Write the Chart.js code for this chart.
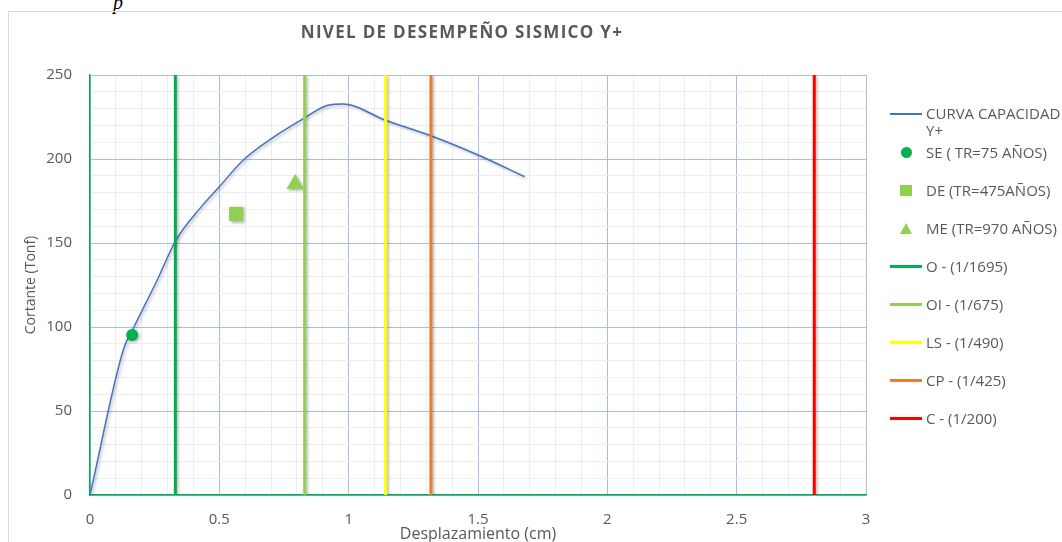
<!DOCTYPE html>
<html lang="es">
<head>
<meta charset="UTF-8">
<title>Nivel de desempeño sísmico Y+</title>
<style>
  html, body { margin: 0; padding: 0; background: #fff; }
  body { width: 1062px; height: 542px; overflow: hidden; position: relative; font-family: "Open Sans", sans-serif; }
  #frame { position: absolute; left: 8px; top: 11px; width: 1100px; height: 600px; border: 1px solid #d9d9d9; }
  #cap { position: absolute; left: 113px; top: -8px; font: italic 20px/20px "Liberation Serif", serif; color: #000; }
  #chart { position: absolute; left: 0; top: 0; }
  #legend { position: absolute; left: 890px; top: 105px; color: #595959; font-size: 15px; line-height: 17px; }
  .item { display: flex; align-items: flex-start; margin-bottom: 21px; }
  .item.first { margin-bottom: 5px; }
  .sym { width: 32px; height: 17px; position: relative; margin-right: 4px; flex: none; }
  .sym .ln { position: absolute; left: 0; right: 0; top: 7px; height: 3px; }
  .sym .dot { position: absolute; left: 11px; top: 3px; width: 11px; height: 11px; border-radius: 50%; }
  .sym .sq { position: absolute; left: 10px; top: 3px; width: 12px; height: 11px; }
  .sym .tri { position: absolute; left: 10px; top: 3px; width: 0; height: 0;
              border-left: 6px solid transparent; border-right: 6px solid transparent; border-bottom: 11px solid; }
  .txt { width: 155px; white-space: normal; }
</style>
</head>
<body>
  <div id="cap">p</div>
  <div id="frame"></div>
  <canvas id="chart" width="1062" height="542"></canvas>
  <div id="legend"></div>

  <script src="https://cdn.jsdelivr.net/npm/chart.js"></script>
  <script>
    const TITLE = 'NIVEL DE DESEMPEÑO SISMICO Y+';

    // capacity curve (displacement cm, shear Tonf)
    const curveName = 'CURVA CAPACIDAD Y+';
    const dispX = [0, 0.13, 0.17, 0.26, 0.33, 0.43, 0.50, 0.59, 0.70, 0.83, 0.92, 0.98, 1.14, 1.32, 1.50, 1.68];
    const shear = [0, 87, 100, 128, 151, 171.5, 183.5, 199, 212, 224.5, 232, 232.7, 223.2, 213.7, 202.4, 189.5];

    // performance points
    const perfNames = ['SE ( TR=75 AÑOS)', 'DE (TR=475AÑOS)', 'ME (TR=970 AÑOS)'];
    const perfX = [0.163, 0.565, 0.793];
    const perfY = [95.2, 167.3, 185.1];
    const perfShapes = ['circle', 'rect', 'triangle'];
    const perfColors = ['#00B050', '#92D050', '#92D050'];

    // drift limits (h = 560 cm)
    const limitNames = ['O - (1/1695)', 'OI - (1/675)', 'LS - (1/490)', 'CP - (1/425)', 'C - (1/200)'];
    const limitX = [0.330, 0.830, 1.143, 1.318, 2.80];
    const limitColors = ['#00B050', '#92D050', '#FFFF00', '#ED7D31', '#FF0000'];

    const xMax = 3, yMax = 250;

    const isMajor = (v, step) => Math.abs(v / step - Math.round(v / step)) < 1e-6;
    const gridMajor = '#A9BEE5', gridMinor = '#EDEDED', textColor = '#595959';

    const datasets = [{
      label: curveName,
      data: dispX.map((x, i) => ({ x: x, y: shear[i] })),
      showLine: true,
      borderColor: '#4472C4',
      borderWidth: 1.5,
      pointRadius: 0,
      cubicInterpolationMode: 'monotone',
      order: 9
    }];

    perfNames.forEach((name, i) => datasets.push({
      label: name,
      data: [{ x: perfX[i], y: perfY[i] }],
      pointStyle: perfShapes[i],
      pointRadius: [6, 10, 10][i],
      backgroundColor: perfColors[i],
      borderColor: perfColors[i],
      borderWidth: 0,
      order: 8 - i
    }));

    limitNames.forEach((name, i) => datasets.push({
      label: name,
      data: [{ x: limitX[i], y: 0 }, { x: limitX[i], y: yMax }],
      showLine: true,
      borderColor: limitColors[i],
      borderWidth: 3,
      pointRadius: 0,
      order: 5 - i
    }));

    // soft drop shadow under all series
    const shadow = {
      id: 'shadow',
      beforeDatasetsDraw(chart) {
        const ctx = chart.ctx;
        ctx.save();
        ctx.shadowColor = 'rgba(0,0,0,0.3)';
        ctx.shadowBlur = 3;
        ctx.shadowOffsetX = 1.5;
        ctx.shadowOffsetY = 1.5;
      },
      afterDatasetsDraw(chart) {
        chart.ctx.restore();
      }
    };

    const chartTitle = {
      id: 'chartTitle',
      afterDraw(chart) {
        const ctx = chart.ctx;
        ctx.save();
        ctx.font = 'bold 17px "Open Sans"';
        ctx.letterSpacing = '1.3px';
        ctx.fillStyle = textColor;
        ctx.textAlign = 'center';
        ctx.textBaseline = 'middle';
        ctx.fillText(TITLE, 462, 33);
        ctx.restore();
      }
    };

    const chart = new Chart(document.getElementById('chart'), {
      type: 'scatter',
      data: { datasets: datasets },
      plugins: [shadow, chartTitle],
      options: {
        responsive: false,
        animation: false,
        layout: { padding: { left: 0, right: 196, top: 75, bottom: 0 } },
        plugins: { legend: { display: false }, tooltip: { enabled: false } },
        scales: {
          x: {
            type: 'linear', min: 0, max: xMax,
            afterFit(s) { s.height = 47; },
            ticks: {
              stepSize: 0.1, autoSkip: false, maxRotation: 0, padding: 16,
              color: textColor, font: { family: 'Open Sans', size: 15 },
              callback: v => isMajor(v, 0.5) ? String(Math.round(v * 10) / 10) : ''
            },
            grid: { drawTicks: false, color: c => isMajor(c.tick.value, 0.5) ? gridMajor : gridMinor },
            border: { color: '#00B050', width: 1.5 },
            title: {
              display: true, text: 'Desplazamiento (cm)', color: textColor,
              font: { family: 'Open Sans', size: 16 }, padding: { top: 0, bottom: -2 }
            }
          },
          y: {
            type: 'linear', min: 0, max: yMax,
            afterFit(s) { s.width = 90; },
            ticks: {
              stepSize: 10, autoSkip: false, padding: 18,
              color: textColor, font: { family: 'Open Sans', size: 15 },
              callback: v => isMajor(v, 50) ? String(v) : ''
            },
            grid: { drawTicks: false, color: c => isMajor(c.tick.value, 50) ? gridMajor : gridMinor },
            border: { color: '#00B050', width: 1.5 },
            title: {
              display: true, text: 'Cortante (Tonf)', color: textColor,
              font: { family: 'Open Sans', size: 14 }, padding: { top: 23, bottom: 0 }
            }
          }
        }
      }
    });

    // legend in series order
    const legend = document.getElementById('legend');
    function addItem(symbol, text, first) {
      const item = document.createElement('div');
      item.className = first ? 'item first' : 'item';
      item.innerHTML = '<div class="sym">' + symbol + '</div><div class="txt">' + text + '</div>';
      legend.appendChild(item);
    }
    addItem('<div class="ln" style="background:#4472C4;height:1.5px;top:8px"></div>', curveName, true);
    perfNames.forEach((name, i) => {
      const cls = { circle: 'dot', rect: 'sq', triangle: 'tri' }[perfShapes[i]];
      const style = cls === 'tri' ? 'border-bottom-color:' + perfColors[i] : 'background:' + perfColors[i];
      addItem('<div class="' + cls + '" style="' + style + '"></div>', name);
    });
    limitNames.forEach((name, i) => addItem('<div class="ln" style="background:' + limitColors[i] + '"></div>', name));
  </script>
</body>
</html>
